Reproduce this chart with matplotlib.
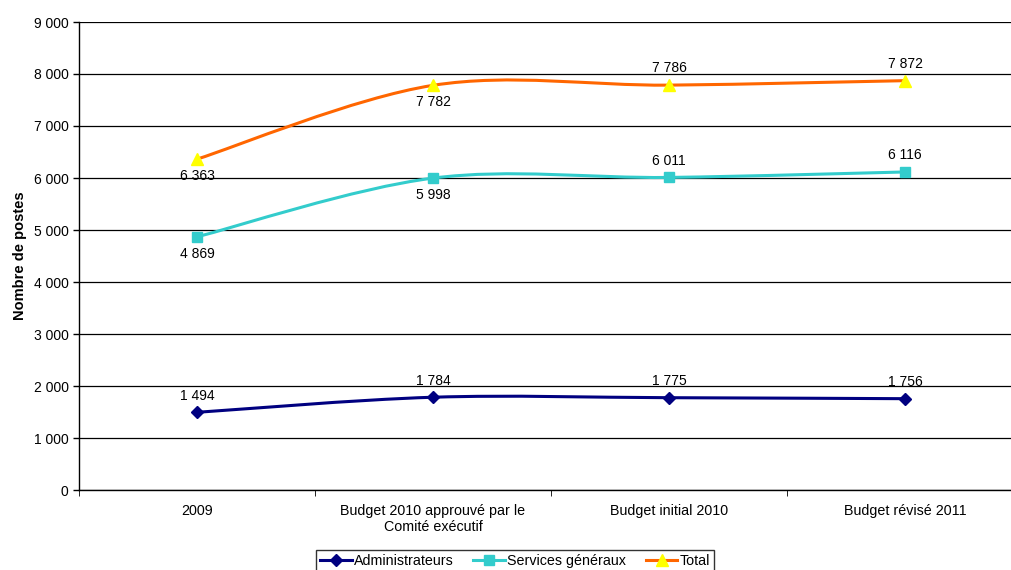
import matplotlib.pyplot as plt
import numpy as np
from matplotlib.path import Path
from matplotlib.patches import PathPatch
from matplotlib.lines import Line2D

plt.rcParams['font.family'] = ['Liberation Sans', 'DejaVu Sans']

categories = ["2009", "Budget 2010 approuvé par le\nComité exécutif",
              "Budget initial 2010", "Budget révisé 2011"]
administrateurs = [1494, 1784, 1775, 1756]
services_generaux = [4869, 5998, 6011, 6116]
total = [6363, 7782, 7786, 7872]


def fmt(v):
    return f"{v:,}".replace(",", " ")


def smooth_path(xs, ys):
    # Excel-style smoothed line: cubic bezier through every point
    pts = np.column_stack([xs, ys]).astype(float)
    n = len(pts)
    verts = [pts[0]]
    codes = [Path.MOVETO]
    for i in range(n - 1):
        p0 = pts[i - 1] if i > 0 else pts[i]
        p1 = pts[i]
        p2 = pts[i + 1]
        p3 = pts[i + 2] if i + 2 < n else pts[i + 1]
        c1 = p1 + (p2 - p0) / 6
        c2 = p2 - (p3 - p1) / 6
        verts += [c1, c2, p2]
        codes += [Path.CURVE4] * 3
    return Path(verts, codes)


fig = plt.figure(figsize=(10.11, 5.70), dpi=100)
ax = fig.add_axes([79 / 1011, 1 - 490 / 570, 944 / 1011, 468 / 570])

x = np.arange(len(categories))
series = [
    ("Administrateurs", administrateurs, '#000080', 'D', '#000080', 6,
     ['above', 'above', 'above', 'above']),
    ("Services généraux", services_generaux, '#33CCCC', 's', '#33CCCC', 7,
     ['below', 'below', 'above', 'above']),
    ("Total", total, '#FF6600', '^', '#FFFF00', 8,
     ['below', 'below', 'above', 'above']),
]

handles = []
for name, vals, lc, mk, mc, ms, pos in series:
    ax.add_patch(PathPatch(smooth_path(x, vals), facecolor='none',
                           edgecolor=lc, lw=2.2, zorder=3))
    ax.plot(x, vals, linestyle='none', marker=mk, color=mc, markersize=ms,
            markeredgecolor=mc, zorder=4)
    for xi, v, p in zip(x, vals, pos):
        if p == 'above':
            ax.annotate(fmt(v), (xi, v), xytext=(0, 7), textcoords='offset points',
                        ha='center', va='bottom', fontsize=10)
        else:
            ax.annotate(fmt(v), (xi, v), xytext=(0, -7), textcoords='offset points',
                        ha='center', va='top', fontsize=10)
    handles.append(Line2D([], [], color=lc, lw=2.2, marker=mk, markerfacecolor=mc,
                          markeredgecolor=mc, markersize=ms))

ax.set_xlim(-0.5, len(categories) - 0.5)
ax.set_ylim(0, 9000)
yt = np.arange(0, 9001, 1000)
ax.set_yticks(yt)
ax.set_yticklabels([fmt(v) for v in yt], fontsize=10)
ax.set_xticks(x)
ax.set_xticklabels(categories, fontsize=10.3)
ax.tick_params(axis='x', length=0, pad=10)
ax.set_xticks(np.arange(-0.5, len(categories), 1), minor=True)
ax.tick_params(axis='x', which='minor', length=4, direction='out')
ax.tick_params(axis='y', length=4, direction='out', width=1)
ax.yaxis.grid(True, color='black', lw=0.9)
ax.set_axisbelow(True)
for s in ['top', 'right']:
    ax.spines[s].set_visible(False)
for s in ['left', 'bottom']:
    ax.spines[s].set_linewidth(1)

ax.set_ylabel("Nombre de postes", fontsize=10.5, fontweight='bold', labelpad=5)

leg = fig.legend(handles, [s[0] for s in series], loc='center',
                 bbox_to_anchor=(515 / 1011, 1 - 561 / 570), ncol=3, fontsize=10.3,
                 frameon=True, fancybox=False, edgecolor='black', handlelength=2.2,
                 handletextpad=0.15, columnspacing=1.4, borderpad=0.3)
leg.get_frame().set_linewidth(1)

fig.savefig("out.png", dpi=100)
